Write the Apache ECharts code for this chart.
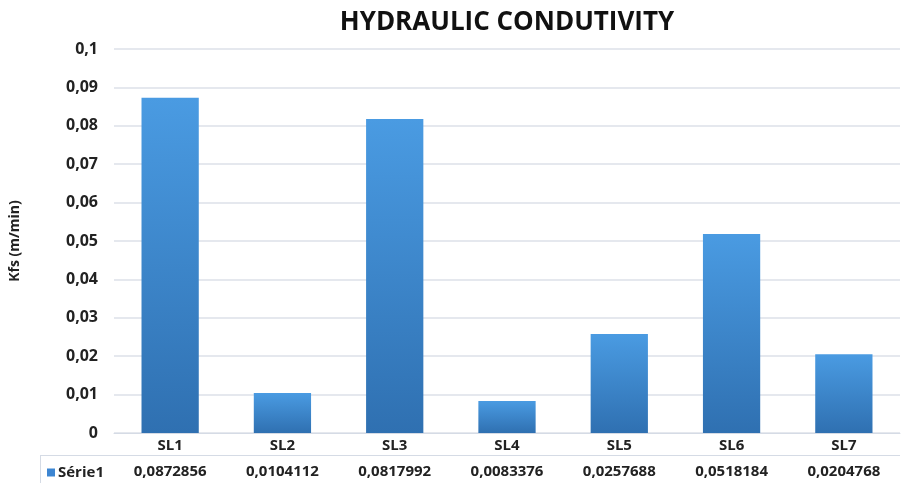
<!DOCTYPE html>
<html>
<head>
<meta charset="utf-8">
<script src="https://cdn.jsdelivr.net/npm/echarts@6/dist/echarts.min.js"></script>
<style>
  html, body { margin: 0; padding: 0; background: #fff; }
  #main { width: 902px; height: 483px; }
</style>
</head>
<body>
<div id="main"></div>
<script>
const categories = ['SL1', 'SL2', 'SL3', 'SL4', 'SL5', 'SL6', 'SL7']
const kfs = [0.0872856, 0.0104112, 0.0817992, 0.0083376, 0.0257688, 0.0518184, 0.0204768]
const seriesName = 'Série1'

const comma = v => String(v).replace('.', ',')
const tableBorder = '#d5dbe5'
const textFont = 'Open Sans, Liberation Sans, sans-serif'

const chart = echarts.init(document.getElementById('main'))

chart.setOption({
  animation: false,
  textStyle: { fontFamily: textFont },
  title: {
    text: 'HYDRAULIC CONDUTIVITY',
    left: 502,
    top: 5,
    textAlign: 'center',
    textStyle: { fontSize: 26, fontWeight: 'bold', color: '#111', fontFamily: textFont }
  },
  legend: {
    data: [seriesName],
    left: 42,
    top: 460,
    icon: 'rect',
    itemWidth: 8,
    itemHeight: 8,
    itemGap: 4,
    itemStyle: { color: '#3d86d2' },
    textStyle: { fontSize: 15, fontWeight: 'bold', color: '#222', padding: [0, 0, 0, -2] }
  },
  grid: { left: 113, right: 2, top: 49, bottom: 50 },
  xAxis: {
    type: 'category',
    data: categories,
    axisLine: { lineStyle: { color: tableBorder, width: 1 } },
    axisTick: { length: 50, lineStyle: { color: tableBorder } },
    axisLabel: {
      interval: 0,
      margin: 2,
      formatter: (name, i) => '{c|' + name + '}\n{v|' + comma(kfs[i]) + '}',
      rich: {
        c: { fontSize: 15, fontWeight: 'bold', color: '#222', lineHeight: 22, fontFamily: textFont },
        v: { fontSize: 15, fontWeight: 'bold', color: '#222', lineHeight: 30, fontFamily: textFont }
      }
    }
  },
  yAxis: {
    type: 'value',
    min: 0,
    max: 0.1,
    interval: 0.01,
    name: 'Kfs (m/min)',
    nameLocation: 'middle',
    nameGap: 92,
    nameTextStyle: { fontSize: 14, fontWeight: 'bold', color: '#222', fontFamily: textFont },
    axisLine: { show: false },
    axisTick: { show: false },
    axisLabel: {
      margin: 16,
      fontSize: 16,
      fontWeight: 'bold',
      color: '#222',
      formatter: v => comma(Number(v.toFixed(2)))
    },
    splitLine: { lineStyle: { color: '#dde1e8', width: 1.5 } }
  },
  graphic: [
    {
      type: 'line',
      shape: { x1: 40, y1: 455.5, x2: 900, y2: 455.5 },
      style: { stroke: tableBorder, lineWidth: 1 }
    },
    {
      type: 'line',
      shape: { x1: 40.5, y1: 455, x2: 40.5, y2: 483 },
      style: { stroke: tableBorder, lineWidth: 1 }
    }
  ],
  series: [{
    name: seriesName,
    type: 'bar',
    data: kfs,
    barWidth: '51%',
    itemStyle: {
      color: new echarts.graphic.LinearGradient(0, 0, 0, 1, [
        { offset: 0, color: '#4a9be2' },
        { offset: 1, color: '#2f70b1' }
      ])
    }
  }]
})
</script>
</body>
</html>
